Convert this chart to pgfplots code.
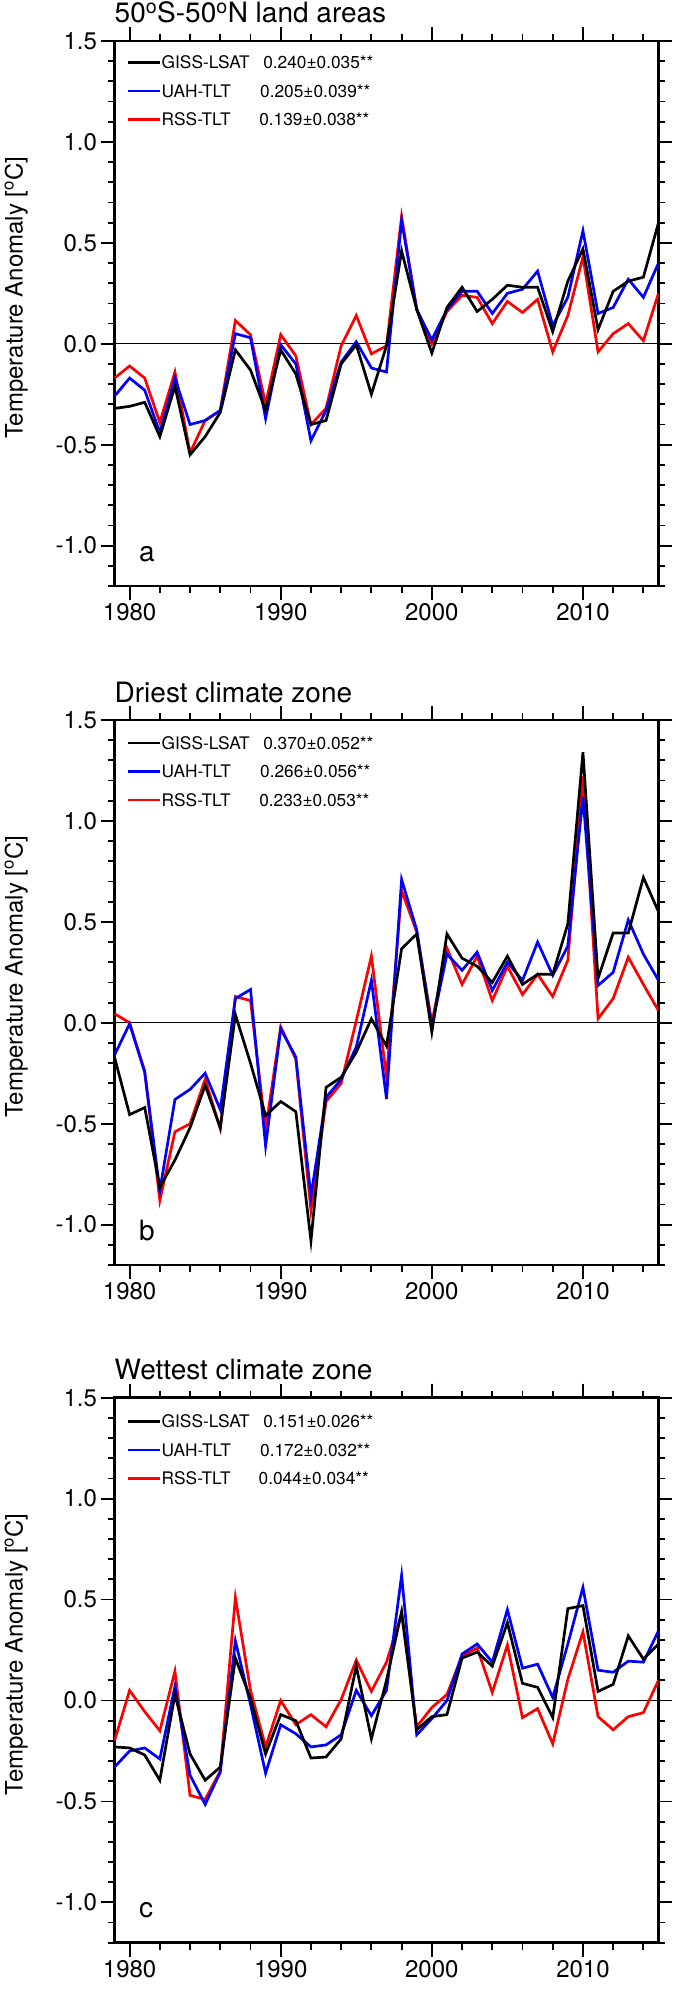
\documentclass[border=0pt]{standalone}
\usepackage{fontspec}
\setmainfont{TeX Gyre Heros}
\usepackage{pgfplots}
\usepackage{pgfplotstable}
\pgfplotsset{compat=1.18}

% annual anomalies
\pgfplotstableread{
year giss uah rss
1979 -0.32 -0.26 -0.17
1980 -0.31 -0.17 -0.11
1981 -0.29 -0.23 -0.17
1982 -0.46 -0.44 -0.39
1983 -0.21 -0.17 -0.14
1984 -0.55 -0.40 -0.54
1985 -0.46 -0.38 -0.38
1986 -0.34 -0.33 -0.33
1987 -0.03 0.05 0.115
1988 -0.13 0.03 0.045
1989 -0.33 -0.37 -0.30
1990 -0.03 -0.005 0.045
1991 -0.15 -0.10 -0.06
1992 -0.40 -0.48 -0.40
1993 -0.38 -0.33 -0.32
1994 -0.10 -0.09 -0.01
1995 -0.005 0.01 0.14
1996 -0.25 -0.12 -0.05
1997 -0.01 -0.14 -0.01
1998 0.46 0.61 0.63
1999 0.17 0.17 0.17
2000 -0.046 0.02 0.0
2001 0.18 0.17 0.16
2002 0.28 0.26 0.24
2003 0.16 0.26 0.23
2004 0.22 0.15 0.10
2005 0.29 0.25 0.21
2006 0.28 0.27 0.155
2007 0.28 0.36 0.22
2008 0.06 0.09 -0.04
2009 0.31 0.23 0.14
2010 0.47 0.56 0.43
2011 0.07 0.15 -0.04
2012 0.26 0.18 0.05
2013 0.31 0.32 0.10
2014 0.33 0.23 0.015
2015 0.60 0.40 0.25
}\dataA

\pgfplotstableread{
year giss uah rss
1979 -0.17 -0.16 0.045
1980 -0.455 -0.005 0.0
1981 -0.42 -0.245 -0.24
1982 -0.815 -0.83 -0.88
1983 -0.68 -0.38 -0.54
1984 -0.52 -0.33 -0.50
1985 -0.31 -0.25 -0.28
1986 -0.52 -0.43 -0.525
1987 0.04 0.12 0.13
1988 -0.20 0.165 0.11
1989 -0.46 -0.61 -0.53
1990 -0.39 -0.03 -0.02
1991 -0.44 -0.17 -0.18
1992 -1.08 -0.86 -0.93
1993 -0.32 -0.37 -0.39
1994 -0.27 -0.28 -0.30
1995 -0.145 -0.12 0.01
1996 0.02 0.21 0.33
1997 -0.115 -0.377 -0.27
1998 0.367 0.71 0.655
1999 0.44 0.46 0.45
2000 -0.046 -0.02 0.0
2001 0.44 0.34 0.37
2002 0.32 0.26 0.19
2003 0.28 0.35 0.33
2004 0.20 0.16 0.11
2005 0.33 0.30 0.28
2006 0.19 0.21 0.14
2007 0.24 0.40 0.24
2008 0.24 0.235 0.13
2009 0.49 0.38 0.31
2010 1.34 1.12 1.22
2011 0.22 0.185 0.02
2012 0.445 0.25 0.12
2013 0.445 0.51 0.325
2014 0.72 0.34 0.19
2015 0.55 0.21 0.06
}\dataB

\pgfplotstableread{
year giss uah rss
1979 -0.23 -0.33 -0.20
1980 -0.235 -0.25 0.05
1981 -0.27 -0.235 -0.055
1982 -0.395 -0.29 -0.15
1983 0.03 0.07 0.145
1984 -0.265 -0.37 -0.47
1985 -0.395 -0.515 -0.49
1986 -0.33 -0.355 -0.35
1987 0.21 0.295 0.51
1988 0.01 -0.02 0.05
1989 -0.265 -0.36 -0.23
1990 -0.07 -0.12 0.0
1991 -0.10 -0.165 -0.12
1992 -0.285 -0.23 -0.07
1993 -0.28 -0.22 -0.13
1994 -0.19 -0.17 0.005
1995 0.17 0.05 0.20
1996 -0.19 -0.075 0.045
1997 0.10 0.05 0.19
1998 0.44 0.62 0.43
1999 -0.145 -0.17 -0.13
2000 -0.08 -0.09 -0.035
2001 -0.07 0.0 0.03
2002 0.21 0.23 0.22
2003 0.24 0.28 0.26
2004 0.17 0.19 0.04
2005 0.385 0.45 0.275
2006 0.085 0.16 -0.085
2007 0.065 0.18 -0.04
2008 -0.085 0.015 -0.215
2009 0.455 0.28 0.105
2010 0.47 0.56 0.34
2011 0.045 0.15 -0.08
2012 0.08 0.14 -0.145
2013 0.32 0.195 -0.08
2014 0.205 0.19 -0.06
2015 0.28 0.345 0.10
}\dataC

\newcommand{\legfont}{\fontsize{17.3}{20}\selectfont}
\newcommand{\bigfont}{\fontsize{28}{32}\selectfont}

\pgfplotsset{
  panel/.style={
    scale only axis, width=544pt, height=545pt,
    xmin=1979, xmax=2015, ymin=-1.2, ymax=1.5,
    xtick={1980,1990,2000,2010},
    xticklabels={1980,1990,2000,2010},
    minor xtick={1982,1984,...,2014},
    ytick={-1,-0.5,0,0.5,1,1.5},
    yticklabels={-1.0,-0.5,0.0,0.5,1.0,1.5},
    minor ytick={-1.2,-1.1,-0.9,-0.8,-0.7,-0.6,-0.4,-0.3,-0.2,-0.1,0.1,0.2,0.3,0.4,0.6,0.7,0.8,0.9,1.1,1.2,1.3,1.4},
    tick align=outside,
    major tick length=14pt, minor tick length=6.8pt,
    tick style={black, line width=1.8pt},
    axis line style={line width=2.5pt},
    tick label style={font=\fontsize{24}{28}\selectfont},
    ylabel={Temperature Anomaly [\textsuperscript{o}C]},
    ylabel style={at={(axis description cs:-0.169,0.529)}, anchor=base,
      font=\fontsize{24}{28}\selectfont, inner sep=0pt},
  },
  series/.style={line width=2.7pt},
  zero/.style={forget plot, black, line width=1pt},
}
\tikzset{legtext/.style={anchor=base west, inner sep=0pt, font=\legfont}}

% one legend row: colour, drop of the key below the top frame, name, value, x of value
\newcommand{\legrow}[5]{%
  \draw[#1, line width=2.4pt] ([xshift=13.8pt, yshift=-#2pt]rel axis cs:0,1) -- ++(31.7pt,0pt);
  \node[legtext] at ([xshift=47pt, yshift=-#2pt-6.2pt]rel axis cs:0,1) {#3};
  \node[legtext] at ([xshift=#5pt, yshift=-#2pt-6.2pt]rel axis cs:0,1) {#4};
}
\newcommand{\letter}[1]{\node[anchor=base west, inner sep=0pt, yshift=25pt,
  font=\bigfont] at (rel axis cs:0.0447,0) {#1};}

\begin{document}
\begin{tikzpicture}

\begin{axis}[panel, name=pa, at={(114.5pt,-41pt)}, anchor=north west]
\addplot[zero] coordinates {(1979,0) (2015,0)};
\addplot[series, red] table[x=year, y=rss] {\dataA};
\addplot[series, blue] table[x=year, y=uah] {\dataA};
\addplot[series, black] table[x=year, y=giss] {\dataA};
\legrow{black}{21.5}{GISS-LSAT}{0.240±0.035**}{148.6}
\legrow{blue}{49.9}{UAH-TLT}{0.205±0.039**}{145.5}
\legrow{red}{78.3}{RSS-TLT}{0.139±0.038**}{144.6}
\letter{a}
\end{axis}
\node[anchor=base west, inner sep=0pt, font=\bigfont] at ([yshift=18pt]pa.north west)
  {50\textsuperscript{o}S-50\textsuperscript{o}N land areas};

\begin{axis}[panel, name=pb, at={(114.5pt,-720pt)}, anchor=north west]
\addplot[zero] coordinates {(1979,0) (2015,0)};
\addplot[series, red] table[x=year, y=rss] {\dataB};
\addplot[series, blue] table[x=year, y=uah] {\dataB};
\addplot[series, black] table[x=year, y=giss] {\dataB};
\legrow{black}{23}{GISS-LSAT}{0.370±0.052**}{148.6}
\legrow{blue}{51.4}{UAH-TLT}{0.266±0.056**}{145.5}
\legrow{red}{79.8}{RSS-TLT}{0.233±0.053**}{144.6}
\letter{b}
\end{axis}
\node[anchor=base west, inner sep=0pt, font=\bigfont] at ([yshift=18pt]pb.north west)
  {Driest climate zone};

\begin{axis}[panel, name=pc, at={(114.5pt,-1397.7pt)}, anchor=north west]
\addplot[zero] coordinates {(1979,0) (2015,0)};
\addplot[series, red] table[x=year, y=rss] {\dataC};
\addplot[series, blue] table[x=year, y=uah] {\dataC};
\addplot[series, black] table[x=year, y=giss] {\dataC};
\legrow{black}{23.8}{GISS-LSAT}{0.151±0.026**}{148.6}
\legrow{blue}{52.2}{UAH-TLT}{0.172±0.032**}{145.5}
\legrow{red}{80.6}{RSS-TLT}{0.044±0.034**}{144.0}
\letter{c}
\end{axis}
\node[anchor=base west, inner sep=0pt, font=\bigfont] at ([yshift=18pt]pc.north west)
  {Wettest climate zone};

\pgfresetboundingbox
\useasboundingbox (0pt,0pt) rectangle (675pt,-1994pt);
\end{tikzpicture}
\end{document}
